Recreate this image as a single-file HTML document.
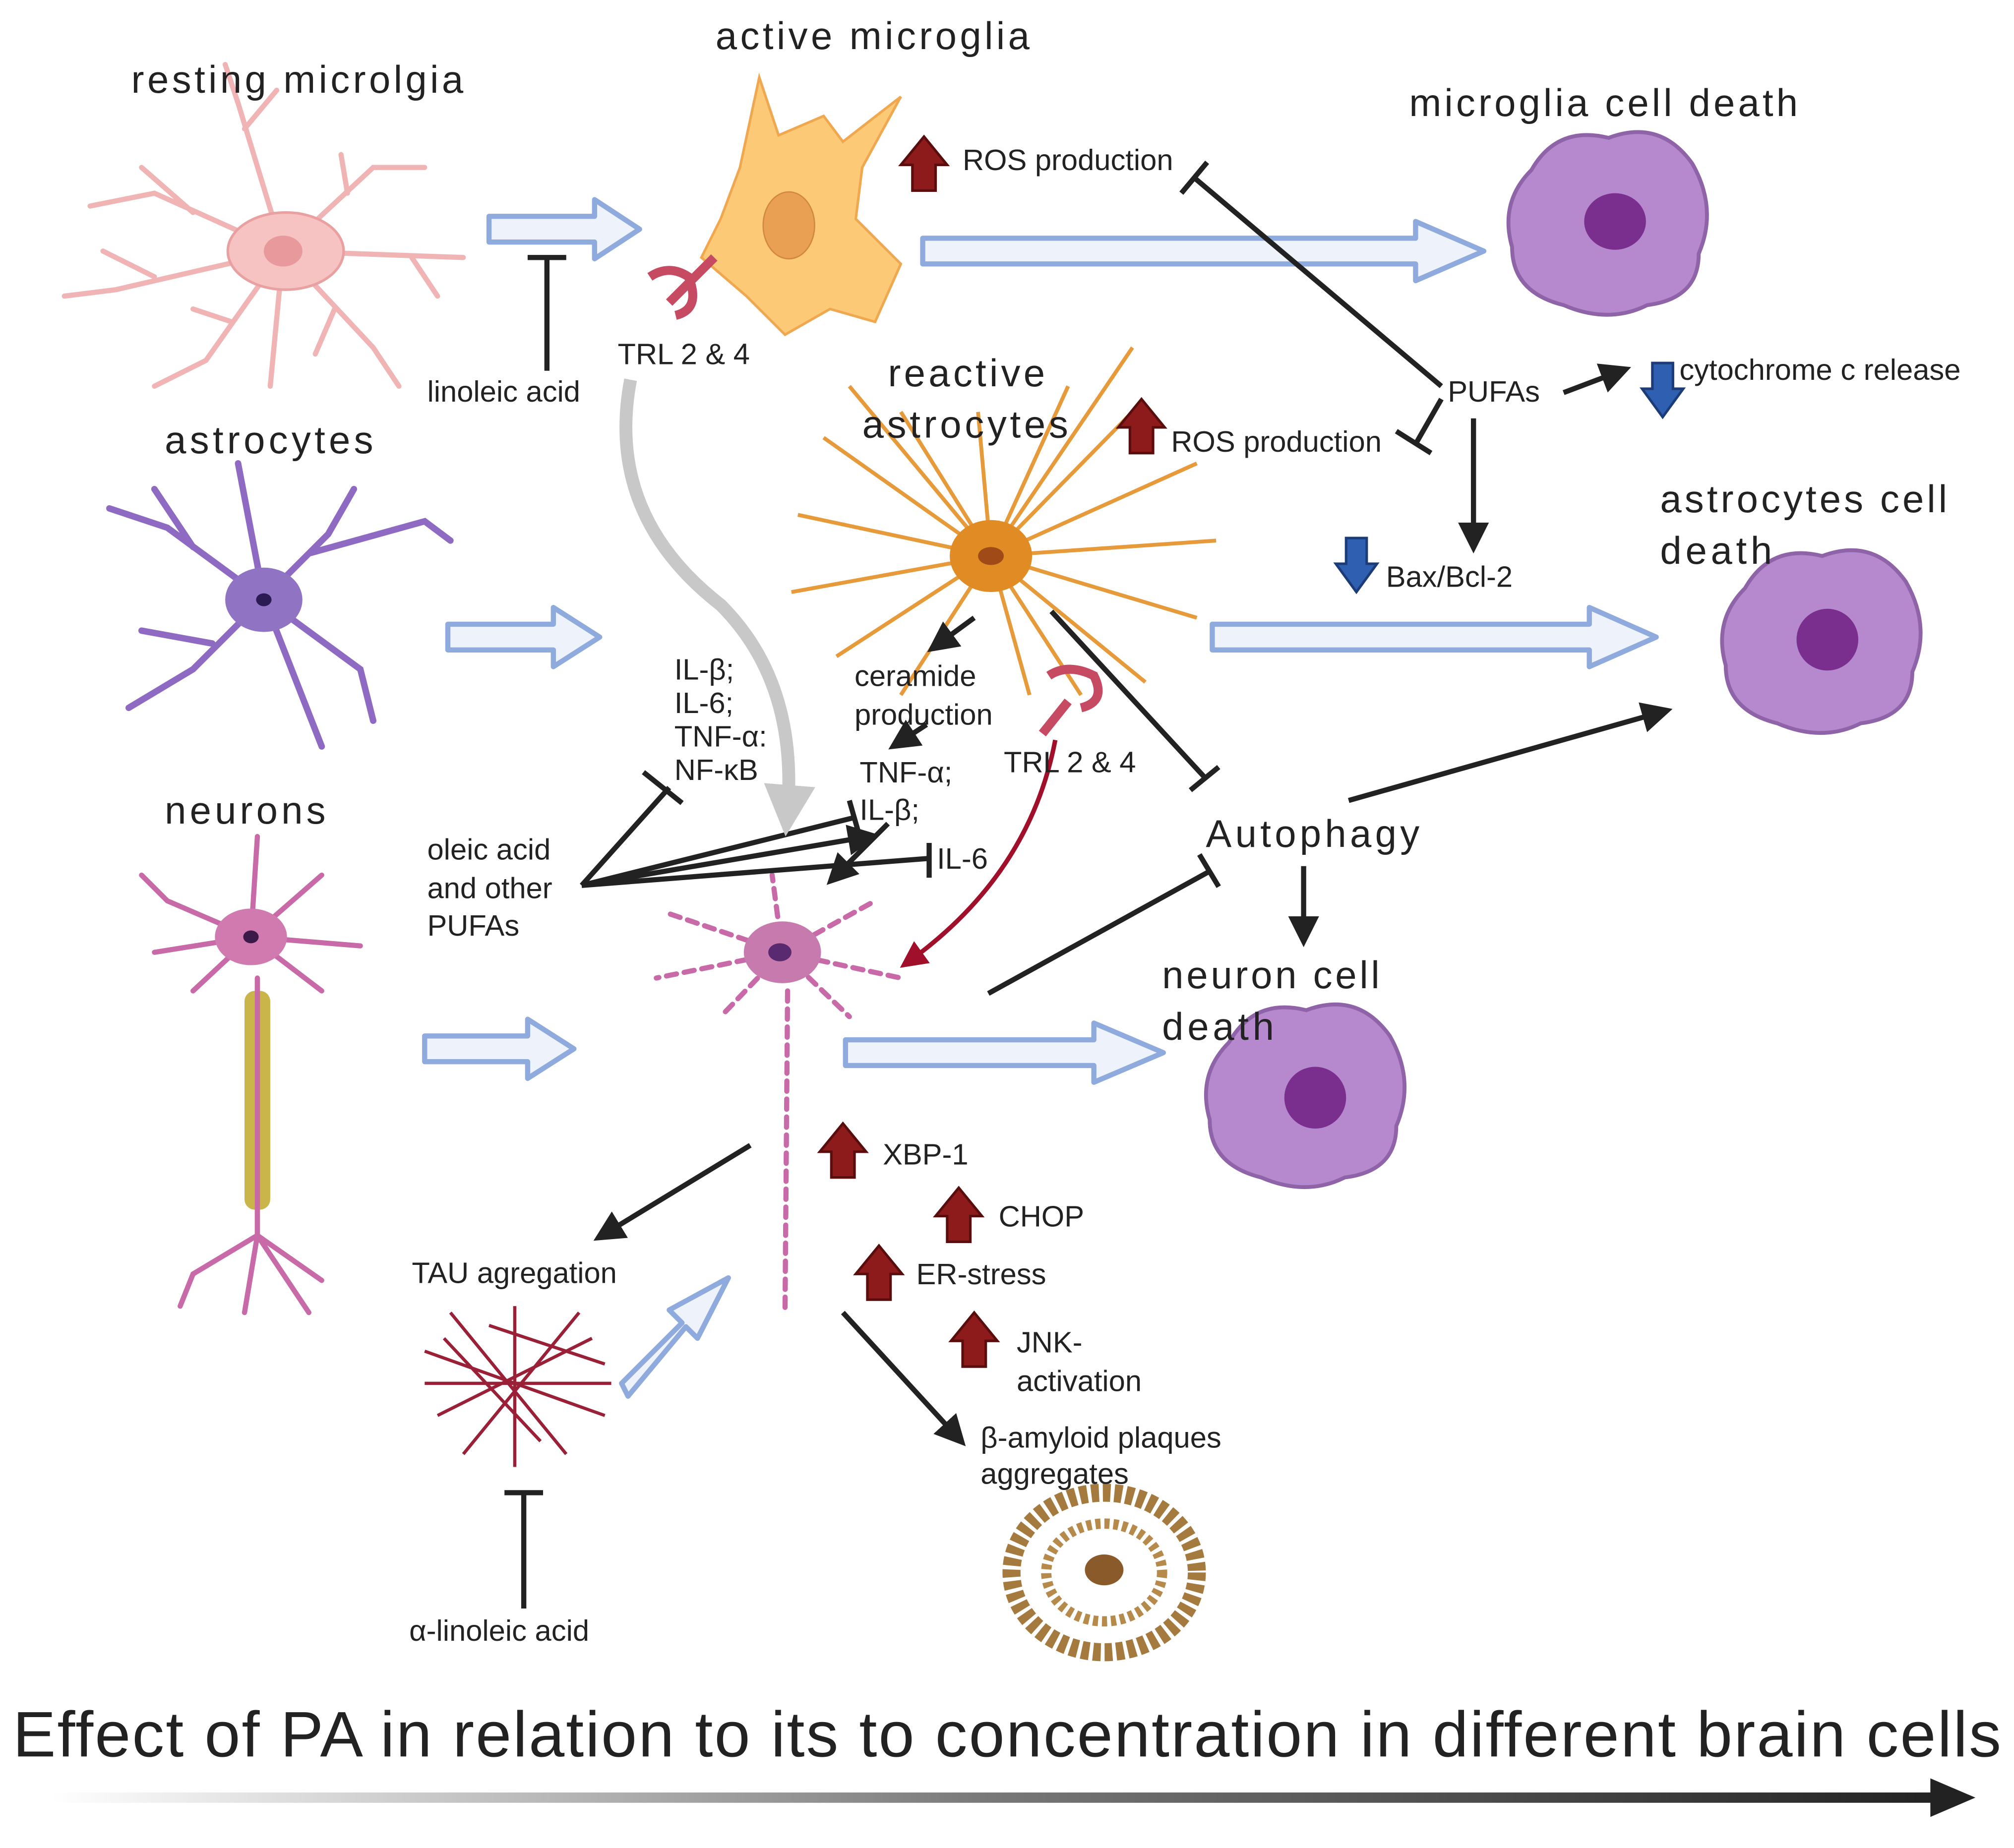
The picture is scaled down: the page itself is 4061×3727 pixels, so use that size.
<!DOCTYPE html>
<html><head><meta charset="utf-8"><style>
html,body{margin:0;padding:0;background:#fff}
svg{display:block}
text{font-family:"Liberation Sans",sans-serif;fill:#222}
</style></head><body>
<svg width="4061" height="3727" viewBox="0 0 1565 1436" xmlns="http://www.w3.org/2000/svg">
<defs>
<marker id="ah" markerWidth="6" markerHeight="6" refX="4" refY="3" orient="auto" markerUnits="strokeWidth"><path d="M0,0 L6,3 L0,6 z" fill="#222"/></marker>
<marker id="ahr" markerWidth="6" markerHeight="6" refX="4" refY="3" orient="auto" markerUnits="strokeWidth"><path d="M0,0 L6,3 L0,6 z" fill="#a0102a"/></marker>
<marker id="ahg" markerWidth="4" markerHeight="4" refX="2" refY="2" orient="auto" markerUnits="strokeWidth"><path d="M0,0 L4,2 L0,4 z" fill="#c8c8c8"/></marker>
<linearGradient id="gr" x1="0" x2="1"><stop offset="0" stop-color="#fff"/><stop offset="0.5" stop-color="#777"/><stop offset="1" stop-color="#222"/></linearGradient>
<path id="up" d="M-9,20 L-9,0 L-18,0 L0,-22 L18,0 L9,0 L9,20 z" fill="#8e1b1b" stroke="#5a0d0d" stroke-width="2"/>
<path id="dn" d="M-8,-20 L-8,0 L-16,0 L0,22 L16,0 L8,0 L8,-20 z" fill="#2f5fb0" stroke="#1c3c78" stroke-width="2"/>
<path id="dead" d="M-60,-40 Q-40,-75 0,-65 Q40,-80 65,-45 Q85,-10 70,25 Q70,60 30,65 Q0,80 -35,65 Q-75,55 -75,20 Q-85,-15 -60,-40z" fill="#b689cf" stroke="#8e63a8" stroke-width="3"/>
</defs>

<g fill="#eef3fb" stroke="#8faadc" stroke-width="4" stroke-linejoin="round">
<path d="M380,168 L462,168 L462,155 L497,178 L462,201 L462,188 L380,188z"/>
<path d="M717,185 L1100,185 L1100,172 L1153,195 L1100,218 L1100,205 L717,205z"/>
<path d="M348,485 L430,485 L430,472 L466,495 L430,518 L430,505 L348,505z"/>
<path d="M942,485 L1235,485 L1235,472 L1287,495 L1235,518 L1235,505 L942,505z"/>
<path d="M330,805 L410,805 L410,792 L446,815 L410,838 L410,825 L330,825z"/>
<path d="M657,808 L850,808 L850,795 L904,818 L850,841 L850,828 L657,828z"/>
<path d="M483,1075 L530,1028 L520,1018 L566,993 L542,1040 L533,1031 L488,1085z"/>
</g>

<g stroke="#f0b4b4" stroke-width="4" fill="none" stroke-linecap="round">
<path d="M220,195 L120,150 L70,160 M150,165 L110,130 M220,195 L90,225 L50,230 M120,215 L80,195 M220,195 L160,280 L120,300 M180,250 L150,240 M220,195 L210,300 M220,195 L185,80 L175,50 M190,100 L215,70 M220,195 L290,130 L330,130 M270,150 L265,120 M220,195 L360,200 M320,200 L340,230 M220,195 L290,270 L310,300 M260,240 L245,275"/>
</g>
<ellipse cx="222" cy="195" rx="45" ry="30" fill="#f6c2c2" stroke="#e8a0a0" stroke-width="2"/>
<ellipse cx="220" cy="195" rx="15" ry="12" fill="#e8999c"/>

<path d="M590,60 L605,105 L640,90 L655,110 L700,75 L670,130 L665,170 L700,205 L680,250 L645,240 L610,260 L580,230 L545,200 L560,170 L575,130z" fill="#fcc977" stroke="#f0a850" stroke-width="2"/>
<ellipse cx="613" cy="175" rx="20" ry="26" fill="#e9a052" stroke="#d08840"/>
<path d="M505,215 Q520,205 535,215 Q545,240 525,245 M520,235 L555,200" stroke="#c74a63" stroke-width="7" fill="none"/>

<use href="#dead" x="1250" y="172"/>
<ellipse cx="1255" cy="172" rx="24" ry="22" fill="#7a2f8e"/>
<use href="#dead" x="1416" y="497"/>
<ellipse cx="1420" cy="497" rx="24" ry="24" fill="#7a2f8e"/>
<use href="#dead" x="1015" y="850"/>
<ellipse cx="1022" cy="853" rx="24" ry="24" fill="#7a2f8e"/>

<g stroke="#8e6ac2" stroke-width="5" fill="none" stroke-linecap="round">
<path d="M205,465 L130,410 L85,395 M150,425 L120,380 M205,465 L185,360 M205,465 L255,415 L275,380 M240,430 L330,405 L350,420 M205,465 L280,520 L290,560 M205,465 L250,580 M205,465 L150,520 L100,550 M165,500 L110,490"/>
</g>
<ellipse cx="205" cy="466" rx="30" ry="25" fill="#9173c4"/>
<ellipse cx="205" cy="466" rx="6" ry="5" fill="#2b1b55"/>

<g stroke="#e69a3a" stroke-width="3" fill="none">
<path d="M770,432 L640,340 M770,432 L620,400 M770,432 L615,460 M770,432 L650,510 M770,432 L700,540 M770,432 L760,320 M770,432 L700,320 M770,432 L830,300 M770,432 L880,320 M770,432 L930,360 M770,432 L945,420 M770,432 L930,480 M770,432 L890,530 M770,432 L840,540 M770,432 L800,540 M770,432 L880,270 M770,432 L660,300"/>
</g>
<ellipse cx="770" cy="432" rx="32" ry="28" fill="#e08b24"/>
<ellipse cx="770" cy="432" rx="10" ry="7" fill="#a04a18"/>
<path d="M815,525 Q830,515 850,525 Q860,545 840,550 M830,545 L810,570" stroke="#c74a63" stroke-width="7" fill="none"/>

<g stroke="#c86aa8" stroke-width="4" fill="none" stroke-linecap="round">
<path d="M195,728 L130,700 L110,680 M195,728 L120,740 M195,728 L150,770 M195,728 L200,650 M195,728 L250,680 M195,728 L280,735 M195,728 L250,770 M200,760 L200,960 M200,960 L150,990 L140,1015 M200,960 L190,1020 M200,960 L250,995 M200,960 L240,1020"/>
</g>
<rect x="190" y="770" width="20" height="170" fill="#c9b54a" rx="8"/>
<line x1="200" y1="760" x2="200" y2="960" stroke="#c86aa8" stroke-width="4"/>
<ellipse cx="195" cy="728" rx="28" ry="22" fill="#d07ab0"/>
<ellipse cx="195" cy="728" rx="6" ry="5" fill="#3b1a4a"/>

<g stroke="#c86aa8" stroke-width="4" fill="none" stroke-dasharray="8 6" stroke-linecap="round">
<path d="M608,740 L520,710 M608,740 L510,760 M608,740 L560,790 M608,740 L600,680 M608,740 L680,700 M608,740 L700,760 M608,740 L660,790 M612,770 L610,1020"/>
</g>
<ellipse cx="608" cy="740" rx="30" ry="24" fill="#c77aae"/>
<ellipse cx="606" cy="740" rx="9" ry="7" fill="#5a2a70"/>

<g stroke="#9a2038" stroke-width="2.5" fill="none">
<path d="M330,1050 L470,1100 M340,1100 L460,1040 M350,1020 L440,1130 M400,1015 L400,1140 M330,1075 L475,1075 M360,1130 L450,1020 M345,1040 L420,1120 M380,1030 L470,1060"/>
</g>
<ellipse cx="858" cy="1222" rx="72" ry="62" fill="none" stroke="#a57a3e" stroke-width="14" stroke-dasharray="6 3"/>
<ellipse cx="858" cy="1222" rx="45" ry="38" fill="none" stroke="#b58a4a" stroke-width="8" stroke-dasharray="4 3"/>
<ellipse cx="858" cy="1220" rx="15" ry="12" fill="#8a5a2a"/>

<use href="#up" x="718" y="128"/>
<use href="#up" x="887" y="332"/>
<use href="#up" x="655" y="895"/>
<use href="#up" x="745" y="945"/>
<use href="#up" x="683" y="990"/>
<use href="#up" x="757" y="1042"/>
<use href="#dn" x="1292" y="302"/>
<use href="#dn" x="1054" y="438"/>

<g stroke="#222" stroke-width="4" fill="none">
<line x1="425" y1="288" x2="425" y2="200"/><line x1="410" y1="200" x2="440" y2="200"/>
<line x1="1120" y1="300" x2="928" y2="138"/><line x1="918" y1="150" x2="938" y2="126"/>
<line x1="1120" y1="310" x2="1100" y2="345"/><line x1="1085" y1="335" x2="1112" y2="352"/>
<line x1="1215" y1="305" x2="1260" y2="288" marker-end="url(#ah)"/>
<line x1="1145" y1="325" x2="1145" y2="422" marker-end="url(#ah)"/>
<line x1="817" y1="475" x2="937" y2="605"/><line x1="925" y1="614" x2="947" y2="596"/>
<line x1="1048" y1="622" x2="1292" y2="553" marker-end="url(#ah)"/>
<line x1="1013" y1="673" x2="1013" y2="728" marker-end="url(#ah)"/>
<line x1="768" y1="772" x2="940" y2="677"/><line x1="932" y1="664" x2="947" y2="689"/>
<line x1="757" y1="480" x2="727" y2="502" marker-end="url(#ah)"/>
<line x1="720" y1="563" x2="697" y2="578" marker-end="url(#ah)"/>
<line x1="452" y1="688" x2="520" y2="612"/><line x1="500" y1="600" x2="530" y2="624"/>
<line x1="452" y1="688" x2="665" y2="635"/><line x1="660" y1="622" x2="668" y2="650"/>
<line x1="452" y1="688" x2="675" y2="650" marker-end="url(#ah)"/>
<line x1="452" y1="688" x2="722" y2="667"/><line x1="722" y1="655" x2="722" y2="682"/>
<line x1="690" y1="640" x2="648" y2="682" marker-end="url(#ah)"/>
<line x1="583" y1="890" x2="468" y2="960" marker-end="url(#ah)"/>
<line x1="655" y1="1020" x2="745" y2="1118" marker-end="url(#ah)"/>
<line x1="407" y1="1250" x2="407" y2="1160"/><line x1="392" y1="1160" x2="422" y2="1160"/>
</g>
<path d="M820,575 Q800,680 705,748" stroke="#a0102a" stroke-width="3.5" fill="none" marker-end="url(#ahr)"/>
<path d="M490,295 Q470,400 560,470 Q620,530 612,630" stroke="#c8c8c8" stroke-width="10" fill="none" marker-end="url(#ahg)"/>

<g font-size="30">
<text x="102" y="72" textLength="258">resting microlgia</text>
<text x="556" y="38" textLength="244">active microglia</text>
<text x="1095" y="90" textLength="302">microglia cell death</text>
<text x="128" y="352" textLength="162">astrocytes</text>
<text x="690" y="300" textLength="122">reactive</text>
<text x="670" y="340" textLength="160">astrocytes</text>
<text x="1290" y="398" textLength="223">astrocytes cell</text>
<text x="1290" y="438" textLength="87">death</text>
<text x="128" y="640" textLength="125">neurons</text>
<text x="937" y="658" textLength="166">Autophagy</text>
<text x="903" y="768" textLength="169">neuron cell</text>
<text x="903" y="808" textLength="87">death</text>
</g>
<g font-size="23">
<text x="748" y="132">ROS production</text>
<text x="910" y="351">ROS production</text>
<text x="1125" y="312">PUFAs</text>
<text x="1305" y="295">cytochrome c release</text>
<text x="1077" y="456">Bax/Bcl-2</text>
<text x="480" y="283">TRL 2 &amp; 4</text>
<text x="332" y="312">linoleic acid</text>
<text x="524" y="528">IL-β;</text>
<text x="524" y="554">IL-6;</text>
<text x="524" y="580">TNF-α:</text>
<text x="524" y="606">NF-κB</text>
<text x="664" y="533">ceramide</text>
<text x="664" y="563">production</text>
<text x="668" y="608">TNF-α;</text>
<text x="668" y="637">IL-β;</text>
<text x="728" y="675">IL-6</text>
<text x="780" y="600">TRL 2 &amp; 4</text>
<text x="332" y="668">oleic acid</text>
<text x="332" y="698">and other</text>
<text x="332" y="727">PUFAs</text>
<text x="686" y="905">XBP-1</text>
<text x="776" y="953">CHOP</text>
<text x="712" y="998">ER-stress</text>
<text x="790" y="1051">JNK-</text>
<text x="790" y="1081">activation</text>
<text x="320" y="997">TAU agregation</text>
<text x="762" y="1125">β-amyloid plaques</text>
<text x="762" y="1153">aggregates</text>
<text x="318" y="1275">α-linoleic acid</text>
</g>
<text x="10" y="1365" font-size="50" textLength="1545">Effect of PA in relation to its to concentration in different brain cells</text>
<rect x="40" y="1393" width="1470" height="8" fill="url(#gr)"/>
<path d="M1500,1382 L1535,1397 L1500,1412z" fill="#222"/>
</svg>
</body></html>
